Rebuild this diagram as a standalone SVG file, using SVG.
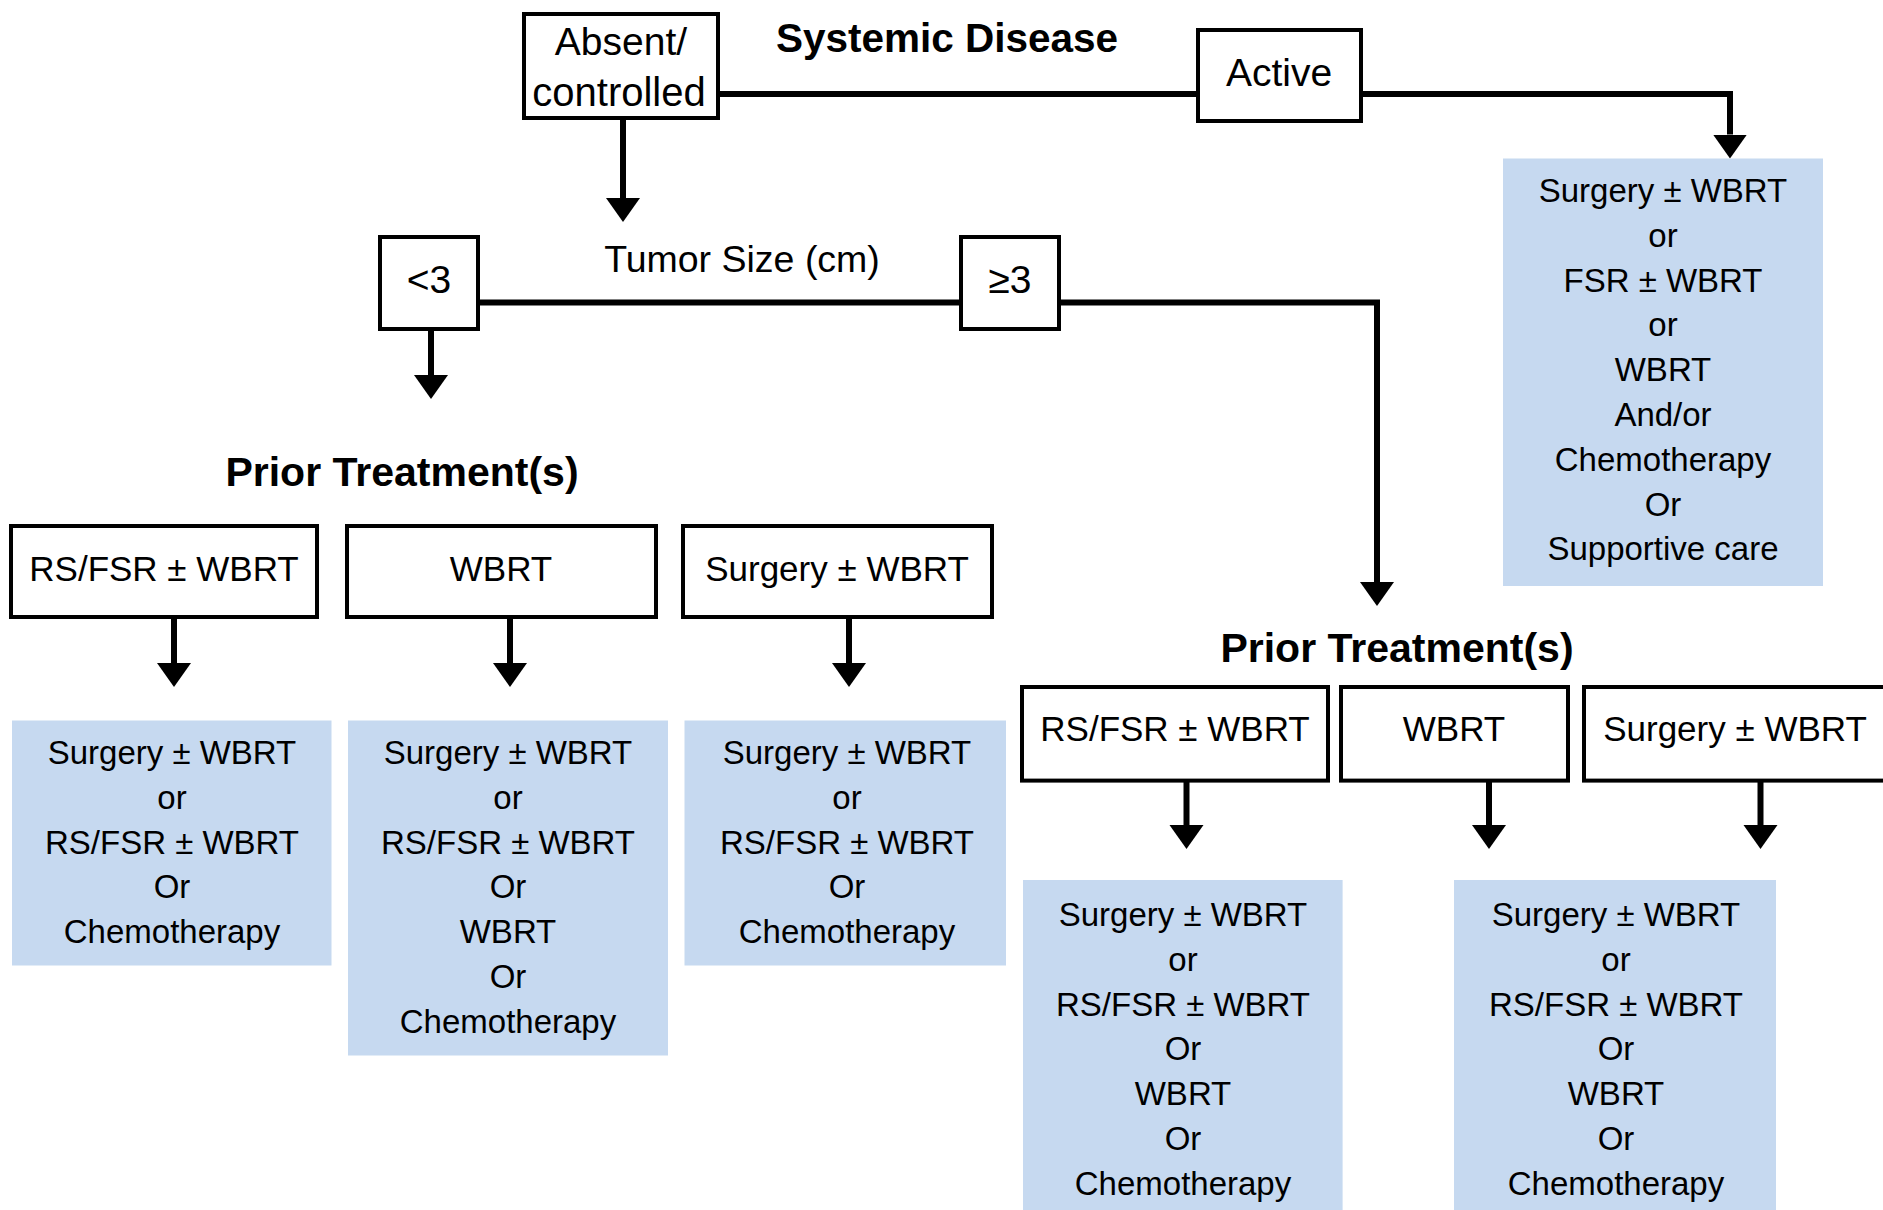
<svg xmlns="http://www.w3.org/2000/svg" width="1883" height="1210" viewBox="0 0 1883 1210">
<style>
.box{fill:#fff;stroke:#000;stroke-width:4}
.blue{fill:#c6d9f0;stroke:none}
.t{font-family:"Liberation Sans",Arial,sans-serif;fill:#000;text-anchor:middle}
.top{font-size:39px}
.lbl{font-size:35px}
.body{font-size:33px}
.hd{font-size:41px;font-weight:bold}
.con{fill:none;stroke:#000;stroke-width:6;stroke-linejoin:miter}
</style>
<defs>
<marker id="ah" markerUnits="userSpaceOnUse" markerWidth="26" markerHeight="36" viewBox="0 -18 26 36" refX="0" refY="0" orient="auto"><path d="M0,-17 L24,0 L0,17 z" fill="#000"/></marker>
</defs>
<rect width="1883" height="1210" fill="#fff"/>

<g id="connectors">
<path class="con" d="M718,94 H1198"/>
<path class="con" d="M1361,94 H1730 V134.5" marker-end="url(#ah)"/>
<path class="con" d="M623,118 V198" marker-end="url(#ah)"/>
<path class="con" d="M478,302.6 H961"/>
<path class="con" d="M1059,302.6 H1377 V582" marker-end="url(#ah)"/>
<path class="con" d="M431,329 V375" marker-end="url(#ah)"/>
<path class="con" d="M174,617 V663" marker-end="url(#ah)"/>
<path class="con" d="M510,617 V663" marker-end="url(#ah)"/>
<path class="con" d="M849,617 V663" marker-end="url(#ah)"/>
<path class="con" d="M1186.5,780.6 V825" marker-end="url(#ah)"/>
<path class="con" d="M1489,780.6 V825" marker-end="url(#ah)"/>
<path class="con" d="M1760.5,780.6 V825" marker-end="url(#ah)"/>
</g>

<g id="systemic-disease-title"><text class="t hd" x="947" y="52" style="font-size:40.5px">Systemic Disease</text></g>

<g id="absent"><rect class="box" x="524" y="14" width="194" height="104"/>
<text class="t top" x="621" y="55">Absent/</text><text class="t top" x="619" y="106" style="font-size:40px">controlled</text></g>

<g id="active"><rect class="box" x="1198" y="30" width="163" height="91"/>
<text class="t top" x="1279" y="86">Active</text></g>

<g id="active-options"><rect class="blue" x="1503" y="158.5" width="320" height="427.5"/>
<text class="t body" x="1663" y="202">Surgery ± WBRT<tspan x="1663" dy="44.8">or</tspan><tspan x="1663" dy="44.8">FSR ± WBRT</tspan><tspan x="1663" dy="44.8">or</tspan><tspan x="1663" dy="44.8">WBRT</tspan><tspan x="1663" dy="44.8">And/or</tspan><tspan x="1663" dy="44.8">Chemotherapy</tspan><tspan x="1663" dy="44.8">Or</tspan><tspan x="1663" dy="44.8">Supportive care</tspan></text></g>

<g id="tumor-size-title"><text class="t" style="font-size:37.5px" x="742" y="272">Tumor Size (cm)</text></g>

<g id="lt3"><rect class="box" x="380" y="237" width="98" height="92"/>
<text class="t top" x="429" y="293">&lt;3</text></g>

<g id="ge3"><rect class="box" x="961" y="237" width="98" height="92"/>
<text class="t top" x="1010" y="293">≥3</text></g>

<g id="prior-left-title"><text class="t hd" x="402" y="486">Prior Treatment(s)</text></g>

<g id="l-rsfsr"><rect class="box" x="11" y="526" width="306" height="91"/>
<text class="t lbl" x="164" y="581">RS/FSR ± WBRT</text></g>
<g id="l-wbrt"><rect class="box" x="347" y="526" width="309" height="91"/>
<text class="t lbl" x="501" y="581">WBRT</text></g>
<g id="l-surgery"><rect class="box" x="683" y="526" width="309" height="91"/>
<text class="t lbl" x="837" y="581">Surgery ± WBRT</text></g>

<g id="l-opt1"><rect class="blue" x="12" y="720.5" width="319.5" height="245"/>
<text class="t body" x="172" y="764">Surgery ± WBRT<tspan x="172" dy="44.8">or</tspan><tspan x="172" dy="44.8">RS/FSR ± WBRT</tspan><tspan x="172" dy="44.8">Or</tspan><tspan x="172" dy="44.8">Chemotherapy</tspan></text></g>
<g id="l-opt2"><rect class="blue" x="348" y="720.5" width="320" height="335"/>
<text class="t body" x="508" y="764">Surgery ± WBRT<tspan x="508" dy="44.8">or</tspan><tspan x="508" dy="44.8">RS/FSR ± WBRT</tspan><tspan x="508" dy="44.8">Or</tspan><tspan x="508" dy="44.8">WBRT</tspan><tspan x="508" dy="44.8">Or</tspan><tspan x="508" dy="44.8">Chemotherapy</tspan></text></g>
<g id="l-opt3"><rect class="blue" x="684.5" y="720.5" width="321.5" height="245"/>
<text class="t body" x="847" y="764">Surgery ± WBRT<tspan x="847" dy="44.8">or</tspan><tspan x="847" dy="44.8">RS/FSR ± WBRT</tspan><tspan x="847" dy="44.8">Or</tspan><tspan x="847" dy="44.8">Chemotherapy</tspan></text></g>

<g id="prior-right-title"><text class="t hd" x="1397" y="662">Prior Treatment(s)</text></g>

<g id="r-rsfsr"><rect class="box" x="1022" y="687" width="306" height="93.6"/>
<text class="t lbl" x="1175" y="741">RS/FSR ± WBRT</text></g>
<g id="r-wbrt"><rect class="box" x="1341" y="687" width="227" height="93.6"/>
<text class="t lbl" x="1454" y="741">WBRT</text></g>
<g id="r-surgery"><rect class="box" x="1584" y="687" width="320" height="93.6"/>
<text class="t lbl" x="1735" y="741">Surgery ± WBRT</text></g>

<g id="r-opt1"><rect class="blue" x="1023" y="880" width="319.6" height="340"/>
<text class="t body" x="1183" y="926">Surgery ± WBRT<tspan x="1183" dy="44.8">or</tspan><tspan x="1183" dy="44.8">RS/FSR ± WBRT</tspan><tspan x="1183" dy="44.8">Or</tspan><tspan x="1183" dy="44.8">WBRT</tspan><tspan x="1183" dy="44.8">Or</tspan><tspan x="1183" dy="44.8">Chemotherapy</tspan></text></g>
<g id="r-opt2"><rect class="blue" x="1454" y="880" width="322" height="340"/>
<text class="t body" x="1616" y="926">Surgery ± WBRT<tspan x="1616" dy="44.8">or</tspan><tspan x="1616" dy="44.8">RS/FSR ± WBRT</tspan><tspan x="1616" dy="44.8">Or</tspan><tspan x="1616" dy="44.8">WBRT</tspan><tspan x="1616" dy="44.8">Or</tspan><tspan x="1616" dy="44.8">Chemotherapy</tspan></text></g>
</svg>
